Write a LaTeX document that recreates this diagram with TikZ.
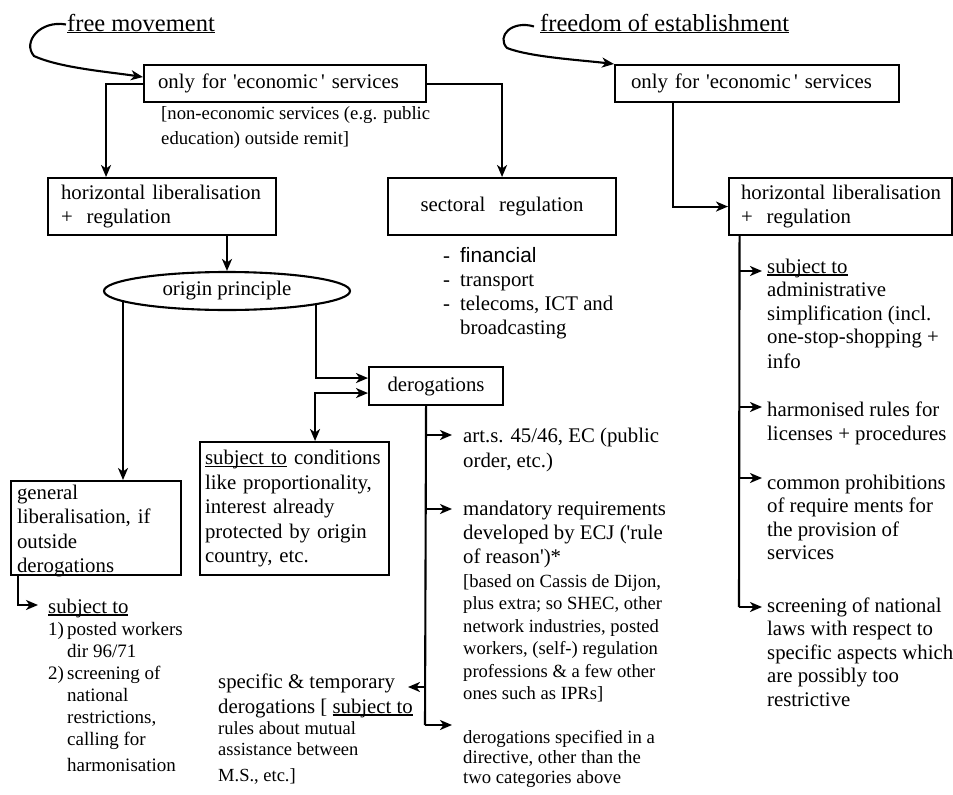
\documentclass[tikz,border=0pt]{standalone}
\usepackage{fontspec}
\setmainfont{Liberation Serif}
\newfontfamily\sansf{Liberation Sans}
\usetikzlibrary{shapes.geometric,arrows.meta,calc}
\newcommand\fsz[2]{\fontsize{#1}{#2}\selectfont}
\newcommand\q{\textquotesingle}
\newlength\ulwd
\newcommand\ulx[2][2.6pt]{\leavevmode\settowidth\ulwd{#2}\rlap{\rule[-#1]{\ulwd}{1.2pt}}#2}
\tikzset{
  ln/.style={line width=2.1pt},
  arr/.style={ln,-{Stealth[length=12pt,width=10pt,inset=3.5pt]}},
  dblarr/.style={ln,{Stealth[length=12pt,width=10pt,inset=3.5pt]}-{Stealth[length=12pt,width=10pt,inset=3.5pt]}},
  bx/.style={draw,line width=2.1pt,anchor=north west,inner ysep=0pt,align=left,font=\fsz{20.8}{24.5}},
  txt/.style={anchor=base west,inner sep=0pt},
}
\begin{document}
\begin{tikzpicture}[x=1pt,y=-1pt]
\useasboundingbox (0,0) rectangle (953,795);
\fill[white] (0,0) rectangle (953,795);

% titles
\node[txt] (fm) at (67,31) {\fsz{24.5}{28}\ulx[2.2pt]{free movement}};
\node[txt] (foe) at (540,31) {\fsz{24.5}{28}\ulx[2.2pt]{freedom of establishment}};

% boxes
\node[bx,minimum width=282pt,minimum height=37pt,inner xsep=14pt,text width=254pt] (box1) at (143,64) {only for \q economic\,\q\ services};
\node[bx,minimum width=228pt,minimum height=57pt,inner xsep=13pt,text width=202pt] (box2) at (47,177) {\mbox{horizontal liberalisation}\\+\ \ regulation};
\node[bx,minimum width=228pt,minimum height=57pt,inner xsep=4pt,text width=220pt,align=center] (sect) at (387,177) {sectoral\ \ regulation};
\node[bx,minimum width=284pt,minimum height=37pt,inner xsep=16pt,text width=252pt] (box3) at (614,64) {only for \q economic\,\q\ services};
\node[bx,minimum width=223pt,minimum height=57pt,inner xsep=12pt,text width=199pt] (box4) at (728,177) {\mbox{horizontal liberalisation}\\+\ \ regulation};
\node[draw,ellipse,line width=2.1pt,minimum width=246pt,minimum height=38pt,inner sep=0pt,font=\fsz{20.8}{24}] (orig) at (227,291) {origin principle};
\node[bx,minimum width=134pt,minimum height=38pt,inner xsep=4pt,text width=126pt,align=center] (derog) at (368,366) {derogations};
\node[bx,minimum width=189pt,minimum height=133pt,inner xsep=5pt,text width=179pt] (subj) at (199,441) {\mbox{\ulx{subject to} conditions}\\like proportionality,\\interest already\\protected by origin\\country, etc.};
\node[bx,minimum width=170pt,minimum height=94pt,inner xsep=6pt,text width=158pt] (general) at (10,480) {\parbox[c][94pt][t]{158pt}{\raggedright\fsz{20.8}{24.5}\vspace*{4pt}general\\liberalisation, if\\outside\\derogations}};

% free texts
\node[txt] (nonecon) at (161,119) {\parbox[t]{300pt}{\raggedright\fsz{18.7}{25}[non-economic services (e.g. public\\education) outside remit]}};
\node[txt] (sectlist) at (443,262) {\parbox[t]{200pt}{\raggedright\fsz{20.8}{24.2}\makebox[17pt][l]{-}{\sansf financial}\\\makebox[17pt][l]{-}transport\\\makebox[17pt][l]{-}telecoms, ICT and\\\hspace*{17pt}broadcasting}};
\node[txt] (art) at (463,442) {\parbox[t]{300pt}{\raggedright\fsz{20.8}{25}art.s. 45/46, EC (public\\order, etc.)}};
\node[txt] (mand) at (463,515) {\parbox[t]{300pt}{\raggedright\fsz{20.8}{24.3}mandatory requirements\\developed by ECJ (\q rule\\of reason\q)*\par\fsz{18.6}{23.5}[based on Cassis de Dijon,\\[-1pt]plus extra; so SHEC, other\\[-1pt]network industries, posted\\[-1pt]workers, (self-) regulation\\[-1pt]professions \& a few other\\[-1pt]ones such as IPRs]}};
\node[txt] (derspec) at (463,743) {\parbox[t]{300pt}{\raggedright\fsz{18.7}{20}derogations specified in a\\directive, other than the\\two categories above}};
\node[txt] (spec) at (218,688) {\parbox[t]{300pt}{\raggedright\fsz{20.8}{25}specific \& temporary\\derogations [ \ulx{subject to}\par\fsz{18.5}{21}rules about mutual\\assistance between\\[5pt]M.S., etc.]}};
\node[txt] (lsub) at (48,613) {\parbox[t]{200pt}{\raggedright\fsz{20.8}{22}\ulx{subject to}\par\fsz{19}{22}\makebox[19pt][l]{1)}posted workers\\\hspace*{19pt}dir 96/71\\\makebox[19pt][l]{2)}screening of\\\hspace*{19pt}national\\\hspace*{19pt}restrictions,\\\hspace*{19pt}calling for\\[4pt]\hspace*{19pt}harmonisation}};
\node[txt] (rsub) at (767,273) {\parbox[t]{200pt}{\raggedright\fsz{20.8}{23.5}\ulx{subject to}\\administrative\\simplification (incl.\\one-stop-shopping +\\[1.5pt]info}};
\node[txt] (harm) at (767,416) {\parbox[t]{200pt}{\raggedright\fsz{20.8}{24.5}harmonised rules for\\licenses + procedures}};
\node[txt] (comm) at (767,489) {\parbox[t]{200pt}{\raggedright\fsz{20.8}{23.5}common prohibitions\\of require ments for\\the provision of\\services}};
\node[txt] (scr) at (767,612) {\parbox[t]{200pt}{\raggedright\fsz{20.8}{23.5}screening of national\\laws with respect to\\specific aspects which\\are possibly too\\restrictive}};

% branch coordinates
\coordinate (bArt) at (425,435);
\coordinate (bMand) at (425,509);
\coordinate (bSpec) at (425,687);
\coordinate (specTip) at (408,687);
\coordinate (bEnd) at (425,725);
\coordinate (rSub) at (739,271);
\coordinate (rHarm) at (739,407);
\coordinate (rComm) at (739,478);
\coordinate (rEnd) at (739,607);
\coordinate (lCorner) at (17,605);

% curved arrows from titles
\draw[arr] ([xshift=-1pt,yshift=-1pt]fm.west) .. controls (40,20) and (22,42) .. (34,56) .. controls (60,68) and (110,72) .. ([yshift=6.5pt]box1.west);
\draw[arr] ([xshift=-6pt,yshift=-3pt]foe.west) .. controls (512,20) and (496,36) .. (507,48) .. controls (530,57) and (580,60) .. (box3.north west);

% connectors
\draw[arr] (box1.west) -| ([xshift=-56pt]box2.north);
\draw[arr] (box1.east) -| (sect.north);
\draw[arr] (orig.north |- box2.south) -- (orig.north);
\draw[arr] (orig.186) -- (orig.186 |- general.north);
\draw[arr] (orig.-9) |- ([yshift=8pt]derog.west);
\draw[dblarr] ([xshift=20.5pt]subj.north) |- ([yshift=-7pt]derog.west);
\draw[ln] ([xshift=-10pt]derog.south) -- (bEnd);
\draw[arr,shorten >=11pt] (bArt) -- (bArt -| art.west);
\draw[arr,shorten >=11pt] (bMand) -- (bMand -| mand.west);
\draw[arr] (bSpec) -- (specTip);
\draw[arr,shorten >=11pt] (bEnd) -- (bEnd -| derspec.west);
\draw[arr,shorten >=10pt] ([xshift=-78pt]general.south) |- (lCorner -| lsub.west);
\draw[arr] ([xshift=-84pt]box3.south) |- (box4.west);
\draw[ln] ([xshift=-101pt]box4.south) -- (rEnd);
\draw[arr,shorten >=5pt] (rSub) -- (rSub -| rsub.west);
\draw[arr,shorten >=5pt] (rHarm) -- (rHarm -| harm.west);
\draw[arr,shorten >=5pt] (rComm) -- (rComm -| comm.west);
\draw[arr,shorten >=5pt] (rEnd) -- (rEnd -| scr.west);
\end{tikzpicture}
\end{document}
